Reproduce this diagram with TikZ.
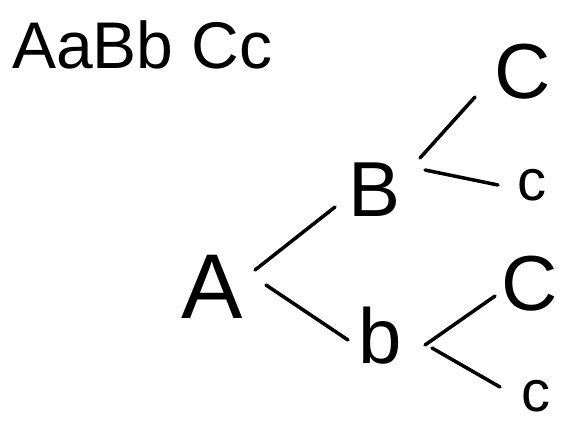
\documentclass[tikz,border=0pt]{standalone}
\usepackage{fontspec}
\setmainfont{Liberation Sans}
\begin{document}
\begin{tikzpicture}[x=1pt,y=-1pt,
  lbl/.style={inner sep=0pt, font=\fontsize{#1}{#1}\selectfont},
  branch/.style={line width=3.5pt, line cap=round}]
\useasboundingbox (0,0) rectangle (567,424);
\node[lbl=66, anchor=west] (title) at (12,45) {AaBb Cc};
\node[lbl=92] (A) at (212,287) {A};
\node[lbl=78] (B) at (375,190) {B};
\node[lbl=78] (b) at (380,336) {b};
\node[lbl=78] (C1) at (523,72) {C};
\node[lbl=58] (c1) at (532,185) {c};
\node[lbl=78] (C2) at (530,284) {C};
\node[lbl=58] (c2) at (536,396) {c};
% branch end points
\coordinate (A1) at (255,270);
\coordinate (A2) at (266,285);
\coordinate (B0) at (335,207);
\coordinate (b0) at (348,340);
\coordinate (B1) at (420,158);
\coordinate (B2) at (425,170);
\coordinate (C1e) at (475,97);
\coordinate (c1e) at (498,185);
\coordinate (b1) at (425,345);
\coordinate (b2) at (432,348);
\coordinate (C2e) at (495,296);
\coordinate (c2e) at (500,387);
\draw[branch] (A1) -- (B0);
\draw[branch] (A2) -- (b0);
\draw[branch] (B1) -- (C1e);
\draw[branch] (B2) -- (c1e);
\draw[branch] (b1) -- (C2e);
\draw[branch] (b2) -- (c2e);
\end{tikzpicture}
\end{document}
